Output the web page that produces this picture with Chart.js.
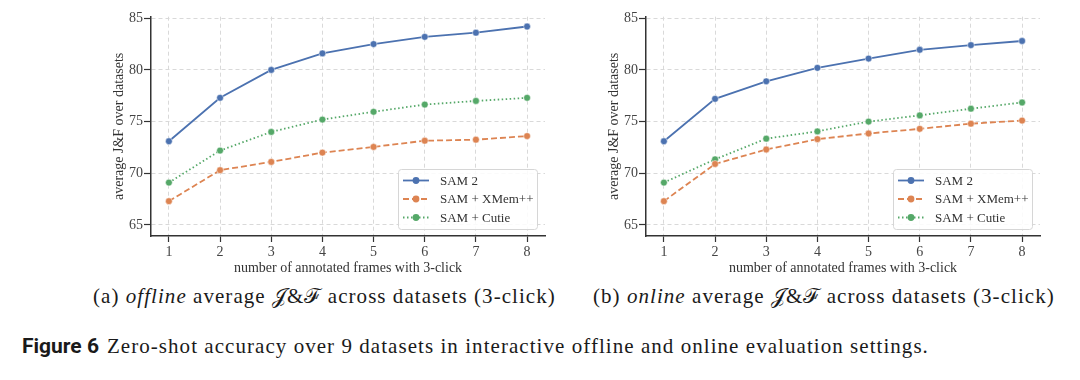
<!DOCTYPE html>
<html>
<head>
<meta charset="utf-8">
<script src="https://cdn.jsdelivr.net/npm/chart.js@4.4.1/dist/chart.umd.min.js"></script>
<style>
  body { margin: 0; background: #fff; width: 1080px; height: 380px; position: relative; overflow: hidden; }
  .panel { position: absolute; top: 0; width: 450px; height: 280px; }
  .cap { position: absolute; font-family: "Liberation Serif", serif; color: #1a1a1a; white-space: nowrap; font-size: 21px; letter-spacing: 1.05px; }
  .fig { font-family: "Liberation Sans Narrow", "Roboto", sans-serif; font-weight: bold; letter-spacing: 0; margin-right: 8px; }
</style>
</head>
<body>
<div class="panel" style="left:100px"><canvas id="offline" width="450" height="280"></canvas></div>
<div class="panel" style="left:595px"><canvas id="online" width="450" height="280"></canvas></div>
<div class="cap" style="left:93px; top:284px">(a) <i>offline</i> average 𝒥&amp;ℱ across datasets (3-click)</div>
<div class="cap" style="left:593px; top:284px">(b) <i>online</i> average 𝒥&amp;ℱ across datasets (3-click)</div>
<div class="cap" style="left:22px; top:334px"><span class="fig">Figure 6</span>Zero-shot accuracy over 9 datasets in interactive offline and online evaluation settings.</div>
<script>
// valeurs
const frames = [1, 2, 3, 4, 5, 6, 7, 8];
const yTicks = [65, 70, 75, 80, 85];
const seriesNames = ['SAM 2', 'SAM + XMem++', 'SAM + Cutie'];

const offlineSam2 = [73.1, 77.3, 80.0, 81.6, 82.5, 83.2, 83.6, 84.2];
const offlineXmem = [67.3, 70.3, 71.1, 72.0, 72.55, 73.15, 73.25, 73.6];
const offlineCutie = [69.1, 72.2, 74.0, 75.2, 75.95, 76.65, 77.0, 77.3];

const onlineSam2 = [73.1, 77.2, 78.9, 80.2, 81.1, 81.95, 82.4, 82.8];
const onlineXmem = [67.3, 70.9, 72.3, 73.3, 73.85, 74.3, 74.8, 75.1];
const onlineCutie = [69.1, 71.35, 73.35, 74.05, 75.0, 75.6, 76.25, 76.85];

const colors = ['#4c72b0', '#dd8452', '#55a868'];
const dashes = [[], [6, 3], [1.5, 2.5]];
const serif = '"Liberation Serif", serif';

// legende dessinee dans le coin en bas a droite
const legendBox = {
  id: 'legendBox',
  afterDatasetsDraw(chart) {
    const { ctx, chartArea } = chart;
    const w = 139, h = 60;
    const x = chartArea.right - 8 - w;
    const y = chartArea.bottom - 7 - h;
    ctx.save();
    ctx.fillStyle = 'rgba(255,255,255,0.85)';
    ctx.strokeStyle = '#d6d6d6';
    ctx.lineWidth = 1;
    ctx.beginPath();
    ctx.roundRect(x + 0.5, y + 0.5, w, h, 3);
    ctx.fill();
    ctx.stroke();
    ctx.font = '13px ' + serif;
    ctx.textBaseline = 'middle';
    chart.data.datasets.forEach((ds, i) => {
      const ly = y + 11.5 + i * 18.5;
      ctx.strokeStyle = ds.borderColor;
      ctx.lineWidth = ds.borderWidth;
      ctx.setLineDash(ds.borderDash);
      ctx.beginPath();
      ctx.moveTo(x + 5, ly);
      ctx.lineTo(x + 31, ly);
      ctx.stroke();
      ctx.setLineDash([]);
      ctx.fillStyle = ds.borderColor;
      ctx.beginPath();
      ctx.arc(x + 18, ly, ds.pointRadius, 0, Math.PI * 2);
      ctx.fill();
      ctx.fillStyle = '#333';
      ctx.fillText(ds.label, x + 42, ly + 1);
    });
    ctx.restore();
  }
};

function buildChart(id, values) {
  new Chart(document.getElementById(id), {
    type: 'line',
    data: {
      datasets: values.map((vals, i) => ({
        label: seriesNames[i],
        data: frames.map((f, j) => ({ x: f, y: vals[j] })),
        borderColor: colors[i],
        backgroundColor: colors[i],
        borderWidth: 1.8,
        borderDash: dashes[i],
        pointRadius: 3.4,
        pointBorderColor: '#fff',
        pointBorderWidth: 0.5,
        pointBackgroundColor: colors[i],
        tension: 0
      }))
    },
    options: {
      responsive: false,
      animation: false,
      layout: { padding: { top: 16.7, right: 5, bottom: 0, left: 0 }, autoPadding: false },
      plugins: { legend: { display: false }, tooltip: { enabled: false } },
      scales: {
        x: {
          type: 'linear',
          min: 0.65,
          max: 8.35,
          afterBuildTicks: s => { s.ticks = frames.map(v => ({ value: v })); },
          afterFit: s => { s.height = 44; },
          grid: { color: '#d9d9d9', lineWidth: 1, tickColor: '#333', tickLength: 6, tickWidth: 1.2, tickBorderDash: [] },
          border: { color: '#333', width: 1.5, dash: [4, 3] },
          ticks: { color: '#444', font: { family: serif, size: 14 }, padding: 2, maxRotation: 0 },
          title: { display: true, text: 'number of annotated frames with 3-click', color: '#333', font: { family: serif, size: 14 }, padding: { top: 0, bottom: 3.5 } }
        },
        y: {
          min: 63.93,
          max: 85.15,
          afterBuildTicks: s => { s.ticks = yTicks.map(v => ({ value: v })); },
          afterFit: s => { s.width = 51; },
          grid: { color: '#d9d9d9', lineWidth: 1, tickColor: '#333', tickLength: 7, tickWidth: 1.2, tickBorderDash: [] },
          border: { color: '#333', width: 1.5, dash: [4, 3] },
          ticks: { color: '#444', font: { family: serif, size: 14 }, padding: 1 },
          title: { display: true, text: 'average J&F over datasets', color: '#333', font: { family: serif, size: 14 }, padding: { top: 11, bottom: 0 } }
        }
      }
    },
    plugins: [legendBox]
  });
}

buildChart('offline', [offlineSam2, offlineXmem, offlineCutie]);
buildChart('online', [onlineSam2, onlineXmem, onlineCutie]);
</script>
</body>
</html>
